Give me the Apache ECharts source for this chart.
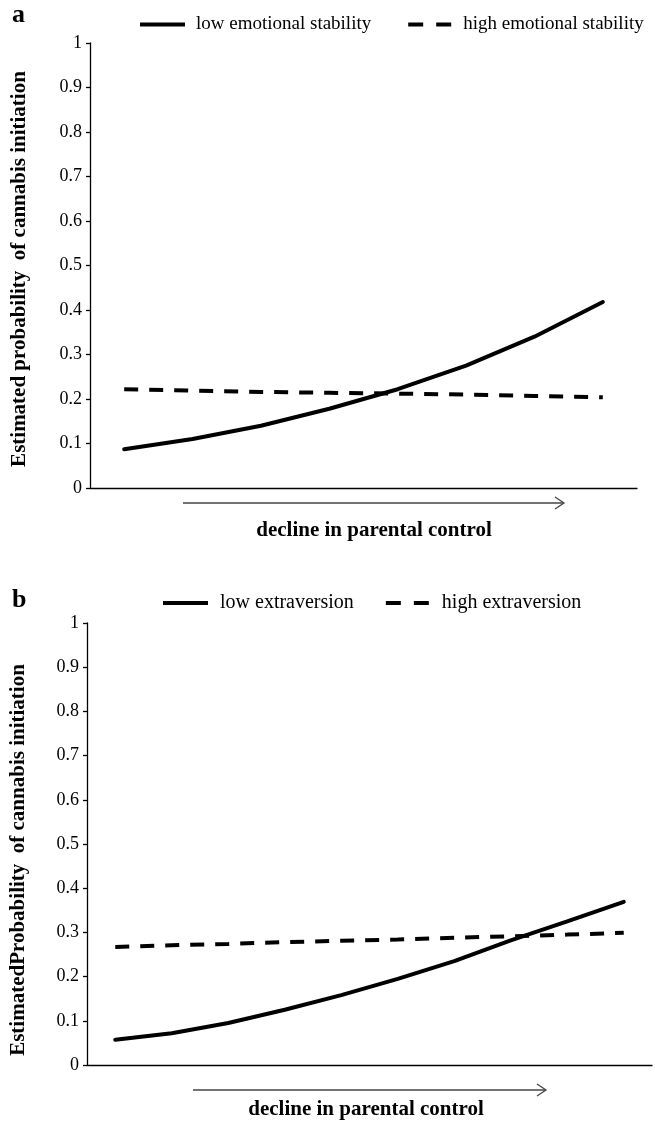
<!DOCTYPE html>
<html><head><meta charset="utf-8">
<script src="https://cdn.jsdelivr.net/npm/echarts@6/dist/echarts.min.js"></script>
<style>html,body{margin:0;padding:0;background:#fff}#c{width:655px;height:1122px}</style>
</head><body><div id="c"></div>
<script>
const catsA = ['1','2','3','4','5','6','7','8'];
const lowEmoStab  = [0.087,0.110,0.140,0.178,0.222,0.275,0.340,0.418];
const highEmoStab = [0.222,0.219,0.216,0.214,0.212,0.210,0.207,0.204];
const catsB = ['1','2','3','4','5','6','7','8','9','10'];
const lowExtra  = [0.057,0.072,0.095,0.125,0.158,0.195,0.235,0.282,0.325,0.369];
const highExtra = [0.267,0.271,0.274,0.278,0.281,0.284,0.288,0.291,0.295,0.299];
const yMin = 0, yMax = 1, yStep = 0.1;
const namesA = ['low emotional stability','high emotional stability'];
const namesB = ['low extraversion','high extraversion'];
const yTitleA = 'Estimated probability  of cannabis initiation';
const yTitleB = 'EstimatedProbability  of cannabis initiation';
const xTitle = 'decline in parental control';

const FF = '"Liberation Serif","Times New Roman",serif';
const chart = echarts.init(document.getElementById('c'), null, {renderer:'canvas'});
const fmt = v => String(+(+v).toFixed(1));
function yAxis(gi){
  return {type:'value', gridIndex:gi, min:yMin, max:yMax, interval:yStep,
    axisLine:{show:true, lineStyle:{color:'#000', width:1.3}},
    axisTick:{show:true, length:4, lineStyle:{color:'#000', width:1.3}},
    splitLine:{show:false},
    axisLabel:{formatter:fmt, color:'#000', fontSize:18, fontFamily:FF, margin:8}};
}
function xAxis(gi, cats){
  return {type:'category', gridIndex:gi, data:cats, boundaryGap:true,
    axisLine:{show:true, lineStyle:{color:'#000', width:1.3}},
    axisTick:{show:false}, axisLabel:{show:false}};
}
const solid = {color:'#000', width:4, type:'solid', cap:'round'};
const dashed = {color:'#000', width:4, type:[14,11]};
function ser(name, data, gi, ls){
  return {name, type:'line', data, xAxisIndex:gi, yAxisIndex:gi, smooth:false,
    symbol:'none', lineStyle:ls, itemStyle:{color:'#000'}, animation:false};
}
const iconSolid = 'path://M0,0H45V4H0Z';
const iconDash = 'path://M0,0H15V4H0ZM28,0H43V4H28Z';
const legendTextA = {fontSize:19, fontFamily:FF, color:'#000', padding:[0,0,0,6]};
const legendTextB = {fontSize:20, fontFamily:FF, color:'#000', padding:[0,0,0,6]};
const titleStyle = {fontSize:21, fontWeight:'bold', fontFamily:FF, fill:'#000', align:'center', verticalAlign:'middle'};
const option = {
  backgroundColor:'#fff',
  animation:false,
  grid:[
    {left:90, right:18, top:43, height:445},
    {left:87, right:3, top:623, height:442}
  ],
  xAxis:[xAxis(0,catsA), xAxis(1,catsB)],
  yAxis:[yAxis(0), yAxis(1)],
  legend:[
    {data:[{name:namesA[0], icon:iconSolid},{name:namesA[1], icon:iconDash}], left:135, top:10, width:540,
     itemWidth:45, itemHeight:4, itemGap:37, textStyle:legendTextA},
    {data:[{name:namesB[0], icon:iconSolid},{name:namesB[1], icon:iconDash}], left:158, top:588, width:490,
     itemWidth:47, itemHeight:4, itemGap:32, textStyle:legendTextB}
  ],
  series:[
    ser(namesA[0], lowEmoStab, 0, solid),
    ser(namesA[1], highEmoStab, 0, dashed),
    ser(namesB[0], lowExtra, 1, solid),
    ser(namesB[1], highExtra, 1, dashed)
  ],
  graphic:[
    {type:'text', left:12, top:2, style:{text:'a', fontSize:26, fontWeight:'bold', fontFamily:FF, fill:'#000'}},
    {type:'text', left:12, top:587, style:{text:'b', fontSize:26, fontWeight:'bold', fontFamily:FF, fill:'#000'}},
    {type:'text', x:20, y:269, rotation:Math.PI/2, style:Object.assign({text:yTitleA}, titleStyle)},
    {type:'text', x:19, y:860, rotation:Math.PI/2, style:Object.assign({text:yTitleB}, titleStyle)},
    {type:'line', shape:{x1:183, y1:503, x2:563, y2:503}, style:{stroke:'#444', lineWidth:1.3}},
    {type:'polyline', shape:{points:[[555,497],[564,503],[555,509]]}, style:{stroke:'#444', lineWidth:1.3, fill:null}},
    {type:'line', shape:{x1:193, y1:1090, x2:545, y2:1090}, style:{stroke:'#444', lineWidth:1.3}},
    {type:'polyline', shape:{points:[[537,1084],[546,1090],[537,1096]]}, style:{stroke:'#444', lineWidth:1.3, fill:null}},
    {type:'text', x:374, y:531, style:Object.assign({text:xTitle}, titleStyle)},
    {type:'text', x:366, y:1110, style:Object.assign({text:xTitle}, titleStyle)}
  ]
};
chart.setOption(option);
</script></body></html>
